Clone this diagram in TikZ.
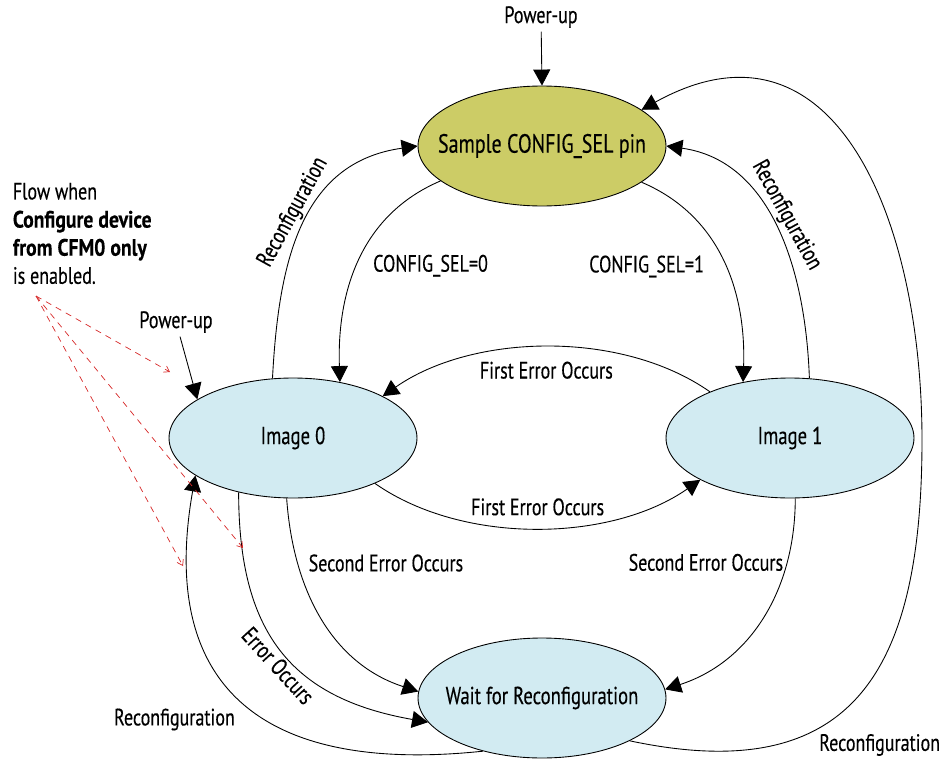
\documentclass[tikz,border=0pt]{standalone}
\usepackage{fontspec}
\setmainfont[FakeStretch=0.76,FakeBold=0.3,BoldFeatures={FakeStretch=0.83}]{PT Sans}
\usetikzlibrary{shapes.geometric,arrows.meta}
\definecolor{selcolor}{RGB}{204,204,102}
\definecolor{imgcolor}{RGB}{210,235,242}
\definecolor{flowcolor}{RGB}{214,40,40}

\begin{document}
\begin{tikzpicture}[x=0.02cm,y=0.02cm]
	\tikzstyle{state}=[ellipse,draw,line width=0.5pt,fill=imgcolor,minimum width=4.96cm,minimum height=2.4cm,inner xsep=-1.2cm,inner ysep=0pt,font=\fontsize{14}{16}\selectfont]
	\tikzstyle{trans}=[line width=0.5pt,-{Triangle[length=0.32cm,width=0.34cm]}]
	\tikzstyle{lbl}=[font=\fontsize{13.5}{16}\selectfont,inner sep=2pt]
	\tikzstyle{flow}=[flowcolor,line width=0.4pt,dash pattern=on 3.5pt off 3pt,-{Straight Barb[length=3pt,width=4pt]}]
	\useasboundingbox (0,0) rectangle (944,-761);
	\node[state,fill=selcolor,font=\fontsize{15}{17}\selectfont] (sample) at (542,-146) {Sample CONFIG\_SEL pin};
	\node[state] (img0) at (293,-438) {Image 0};
	\node[state] (img1) at (790,-438) {Image 1};
	\node[state] (wait) at (542,-698) {Wait for Reconfiguration};
	\node[lbl] (pwr) at (541,-17) {Power-up};
	\node[lbl] (pwr0) at (176,-322) {Power-up};
	\node[lbl,font=\fontsize{13.5}{16}\selectfont,align=left,anchor=north west] (note) at (9,-179) {Flow when\\\textbf{Configure device}\\\textbf{from CFM0 only}\\is enabled.};
	\coordinate (fs) at (36,-296);
	\coordinate (fe1) at (170,-372);
	\coordinate (fe2) at (243,-548);
	\coordinate (fe3) at (183,-566);
	\coordinate (rarc) at (922,-440);
	\draw[trans] (pwr) -- (sample.north);
	\draw[trans] (pwr0) -- (img0.158);
	\draw[trans] (sample.199) to[out=203,in=92] node[lbl,right=7pt,pos=0.52] {CONFIG\_SEL=0} (img0.50);
	\draw[trans] (sample.340) to[out=-23,in=88] node[lbl,left=10pt,pos=0.52] {CONFIG\_SEL=1} (img1.130);
	\draw[trans] (img0.109) to[out=87,in=188,looseness=1.1] node[lbl,sloped,above,pos=0.52] {Reconfiguration} (sample.west);
	\draw[trans] (img1.72) to[out=92,in=-8] node[lbl,sloped,above,pos=0.52] {Reconfiguration} (sample.east);
	\draw[trans] (img1.150) to[out=145,in=35,looseness=0.85] node[lbl,below=6pt] {First Error Occurs} (img0.25);
	\draw[trans] (img0.331) to[out=-35,in=215,looseness=0.85] node[lbl,above=5pt] {First Error Occurs} (img1.205);
	\draw[trans] (img0.264) to[out=-86,in=162] node[lbl,right=4pt,pos=0.25] {Second Error Occurs} (wait.177);
	\draw[trans] (img1.275) to[out=-90,in=18] node[lbl,left,pos=0.25] {Second Error Occurs} (wait.4);
	\draw[trans] (img0.225) to[out=-90,in=170,looseness=1.2] node[lbl,sloped,below,pos=0.53] {Error Occurs} (wait.192);
	\draw[trans] (wait.222) to[out=186,in=260,looseness=1.4] node[lbl,left=0.55cm,pos=0.43] {Reconfiguration} (img0.201);
	\draw[trans] (wait.334) to[out=-12,in=-90,looseness=1.4] node[lbl,anchor=north west,pos=0.36] {Reconfiguration} (rarc) to[out=90,in=29,looseness=1.3] (sample.20);
	\draw[flow] (fs) -- (fe1);
	\draw[flow] (fs) -- (fe2);
	\draw[flow] (fs) -- (fe3);
\end{tikzpicture}
\end{document}
